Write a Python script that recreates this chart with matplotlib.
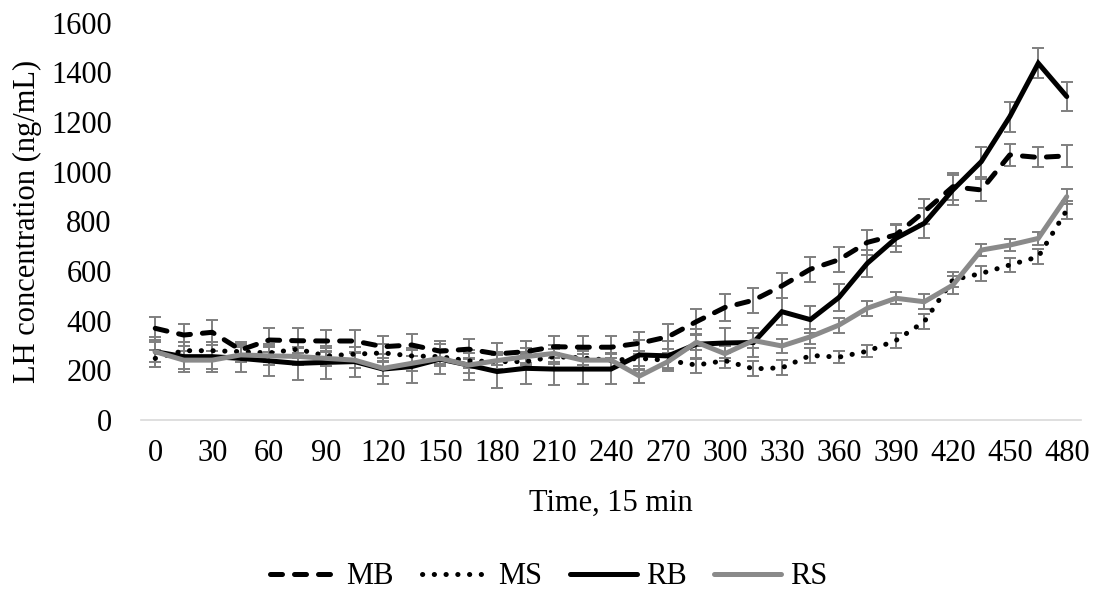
import matplotlib
matplotlib.use("Agg")
import matplotlib.pyplot as plt
import numpy as np

plt.rcParams['font.family'] = ['Liberation Serif', 'DejaVu Serif']

time = list(range(0, 481, 15))
tick_labels = [str(t) for t in range(0, 481, 30)]

MB = [369, 342, 353, 282, 322, 319, 318, 318, 295, 302, 277, 285, 266, 275, 295, 293, 293,
      309, 335, 396, 453, 482, 540, 607, 645, 715, 745, 839, 939, 926, 1067, 1057, 1063]
MS = [248, 279, 279, 275, 270, 285, 258, 265, 270, 258, 255, 238, 235, 235, 255, 250, 240,
      248, 240, 221, 239, 206, 210, 260, 253, 277, 320, 396, 564, 590, 624, 657, 845]
RB = [275, 255, 255, 248, 238, 228, 232, 235, 205, 215, 245, 221, 195, 208, 205, 205, 205,
      262, 258, 305, 310, 312, 436, 404, 493, 631, 731, 792, 926, 1040, 1221, 1436, 1302]
RS = [275, 241, 241, 262, 258, 256, 248, 241, 208, 228, 248, 221, 239, 255, 268, 241, 241,
      177, 235, 313, 267, 320, 298, 335, 382, 450, 490, 476, 543, 684, 704, 731, 899]

MB_err = [45, 45, 50, 30, 50, 50, 45, 45, 45, 45, 40, 40, 45, 45, 45, 45, 45,
          45, 50, 50, 55, 50, 50, 50, 50, 50, 45, 50, 55, 45, 45, 40, 45]
MS_err = [35, 35, 35, 30, 35, 35, 30, 30, 35, 30, 30, 30, 30, 30, 30, 30, 30,
          30, 30, 30, 30, 30, 30, 30, 25, 25, 30, 30, 30, 30, 30, 30, 35]
RB_err = [60, 60, 60, 55, 60, 65, 65, 60, 60, 65, 60, 60, 65, 65, 65, 60, 60,
          60, 60, 60, 60, 60, 55, 55, 55, 55, 55, 60, 60, 60, 60, 60, 60]
RS_err = [40, 35, 35, 30, 35, 35, 30, 30, 30, 30, 30, 30, 35, 35, 35, 35, 30,
          30, 30, 30, 30, 30, 30, 30, 30, 30, 25, 30, 35, 25, 25, 25, 30]

W, H = 1098, 596
fig = plt.figure(figsize=(W / 100, H / 100), dpi=100)
ax = fig.add_axes([141 / W, 1 - 420 / H, 940 / W, (420 - 22.5) / H])

err_kw = dict(ecolor='#7f7f7f', elinewidth=1.4, capsize=4, capthick=1.4)
lw = 3.6
series = [
    ("MB", MB, MB_err, dict(color='black', dashes=(2.4, 2.4), dash_capstyle='round')),
    ("MS", MS, MS_err, dict(color='black', dashes=(0.05, 2.3), dash_capstyle='round')),
    ("RB", RB, RB_err, dict(color='black', solid_capstyle='round')),
    ("RS", RS, RS_err, dict(color='#8a8a8a', solid_capstyle='round')),
]
handles = []
for name, vals, errs, style in series:
    ax.errorbar(time, vals, yerr=errs, fmt='none', zorder=2, **err_kw)
    ln, = ax.plot(time, vals, lw=lw, label=name, zorder=3, solid_joinstyle='miter', **style)
    handles.append(ln)

ax.set_xlim(-7.5, 487.5)
ax.set_ylim(0, 1600)
ax.set_xticks(range(0, 481, 30))
ax.set_xticklabels(tick_labels)
ax.set_yticks(range(0, 1601, 200))
ax.tick_params(axis='both', length=0, labelsize=22)
ax.tick_params(axis='y', pad=21)
ax.tick_params(axis='x', pad=14)
for s in ['top', 'right', 'left']:
    ax.spines[s].set_visible(False)
ax.spines['bottom'].set_color('#d9d9d9')
ax.spines['bottom'].set_linewidth(1.2)

fig.text(27 / W, 1 - 221 / H, "LH concentration (ng/mL)", rotation=90,
         ha='center', va='center', fontsize=22)
fig.text(611 / W, 1 - 503 / H, "Time, 15 min", ha='center', va='center', fontsize=22)

fig.legend(handles=handles, loc='center', bbox_to_anchor=(0.5, 1 - 577 / H), ncol=4,
           frameon=False, fontsize=22, handlelength=2.2, handletextpad=0.3,
           columnspacing=0.9)

fig.savefig("out.png", dpi=100)
